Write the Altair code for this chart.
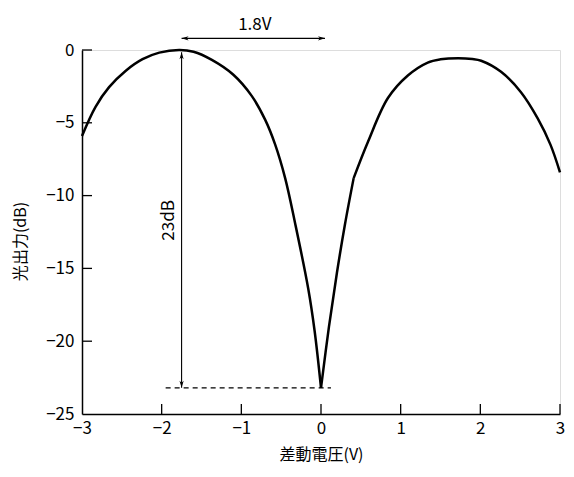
import altair as alt
import pandas as pd

# ---- data ----
# left lobe: -3 V up to the null at 0 V
left_x = [-3.0, -2.83, -2.66, -2.45, -2.24, -2.03, -1.78, -1.6, -1.37, -1.1,
          -0.87, -0.70, -0.575, -0.45, -0.325, -0.16, -0.08, 0.0]
left_db = [-5.9, -3.9, -2.55, -1.42, -0.63, -0.18, 0.0, -0.12, -0.68, -1.7,
           -3.15, -4.8, -6.5, -8.8, -11.9, -16.4, -19.3, -23.2]
# right branch, null up to the small kink
mid_x = [0.0, 0.1, 0.2, 0.3, 0.41]
mid_db = [-23.2, -19.0, -15.3, -12.0, -8.8]
# right lobe, kink up to +3 V
right_x = [0.41, 0.59, 0.84, 1.09, 1.34, 1.5, 1.72, 1.9, 2.01, 2.26, 2.51,
           2.72, 2.88, 3.0]
right_db = [-8.8, -6.3, -3.3, -1.75, -0.86, -0.64, -0.56, -0.62, -0.74, -1.5,
            -2.9, -4.7, -6.5, -8.4]

x_ticks = [-3, -2, -1, 0, 1, 2, 3]
y_ticks = [-25, -20, -15, -10, -5, 0]
x_inner_ticks = [-2, -1, 0, 1, 2, 3]
y_inner_ticks = [-20, -15, -10, -5, 0]

# annotation values
span_x = [-1.75, 0.05]      # 1.8V arrow ends
span_y = 0.8
span_label = "1.8V"
span_label_x = -0.83
span_label_y = 1.72
depth_x = -1.75              # 23dB arrow
depth_y = [-0.15, -23.2]
depth_label = "23dB"
depth_label_x = -1.91
depth_label_y = -11.7
dash_x = [-1.95, 0.125]
dash_y = -23.2

FONT = "Noto Sans CJK JP"
W, H = 478, 364

curve = pd.concat([
    pd.DataFrame({"v": left_x, "db": left_db, "branch": "a"}),
    pd.DataFrame({"v": mid_x, "db": mid_db, "branch": "b"}),
    pd.DataFrame({"v": right_x, "db": right_db, "branch": "c"}),
])

xs = alt.Scale(domain=[-3, 3], nice=False, zero=False)
ys = alt.Scale(domain=[-25, 0], nice=False, zero=False)

line = alt.Chart(curve).mark_line(color="black", strokeWidth=2.5,
                                  interpolate="catmull-rom").encode(
    x=alt.X("v:Q", scale=xs, title="差動電圧(V)",
            axis=alt.Axis(values=x_ticks, format="d", ticks=False, tickSize=0,
                          grid=False, domainColor="black", domainWidth=1.5,
                          labelFlush=False, labelPadding=6, labelFontSize=17,
                          labelFont=FONT, labelColor="black",
                          titleFont=FONT, titleFontSize=16,
                          titleFontWeight="normal", titleColor="black",
                          titleY=40, titleBaseline="middle")),
    y=alt.Y("db:Q", scale=ys, title="光出力(dB)",
            axis=alt.Axis(values=y_ticks, format="d", ticks=False, tickSize=0,
                          grid=False, domainColor="black", domainWidth=1.5,
                          labelFlush=False, labelPadding=8, labelFontSize=17,
                          labelFont=FONT, labelColor="black",
                          titleFont=FONT, titleFontSize=16,
                          titleFontWeight="normal", titleColor="black",
                          titleX=-62, titleY=191, titleAngle=270,
                          titleAlign="center", titleBaseline="middle")),
    detail="branch:N",
)

xt = alt.Chart(pd.DataFrame({"v": x_inner_ticks})).mark_rule(
    color="black", strokeWidth=1.3).encode(
    x=alt.X("v:Q", scale=xs), y=alt.value(H), y2=alt.value(H - 10))
yt = alt.Chart(pd.DataFrame({"db": y_inner_ticks})).mark_rule(
    color="black", strokeWidth=1.3).encode(
    y=alt.Y("db:Q", scale=ys), x=alt.value(0), x2=alt.value(10))

hspan = alt.Chart(pd.DataFrame({"a": [span_x[0]], "b": [span_x[1]], "y": [span_y]})).mark_rule(
    color="black", strokeWidth=1.1).encode(
    x=alt.X("a:Q", scale=xs), x2="b:Q", y=alt.Y("y:Q", scale=ys))
vspan = alt.Chart(pd.DataFrame({"x": [depth_x], "a": [depth_y[0]], "b": [depth_y[1]]})).mark_rule(
    color="black", strokeWidth=1.1).encode(
    x=alt.X("x:Q", scale=xs), y=alt.Y("a:Q", scale=ys), y2="b:Q")
dash = alt.Chart(pd.DataFrame({"a": [dash_x[0]], "b": [dash_x[1]], "y": [dash_y]})).mark_rule(
    color="black", strokeWidth=1.2, strokeDash=[5, 4]).encode(
    x=alt.X("a:Q", scale=xs), x2="b:Q", y=alt.Y("y:Q", scale=ys))

ARROW = "M0,0 L-2,-0.6 L-1.45,0 L-2,0.6 Z"
heads = pd.DataFrame({
    "x": [span_x[0], span_x[1], depth_x, depth_x],
    "y": [span_y, span_y, depth_y[0], depth_y[1]],
    "ang": [180, 0, 270, 90],
})
arrowheads = alt.Chart(heads).mark_point(
    shape=ARROW, filled=True, color="black", opacity=1, size=49, strokeWidth=0).encode(
    x=alt.X("x:Q", scale=xs), y=alt.Y("y:Q", scale=ys),
    angle=alt.Angle("ang:Q", scale=None))

lab1 = alt.Chart(pd.DataFrame({"x": [span_label_x], "y": [span_label_y], "t": [span_label]})).mark_text(
    font=FONT, fontSize=17, color="black", align="center", baseline="middle").encode(
    x=alt.X("x:Q", scale=xs), y=alt.Y("y:Q", scale=ys), text="t:N")
lab2 = alt.Chart(pd.DataFrame({"x": [depth_label_x], "y": [depth_label_y], "t": [depth_label]})).mark_text(
    font=FONT, fontSize=17, color="black", align="center", baseline="middle", angle=270).encode(
    x=alt.X("x:Q", scale=xs), y=alt.Y("y:Q", scale=ys), text="t:N")

chart = alt.layer(line, xt, yt, dash, hspan, vspan, arrowheads, lab1, lab2).properties(
    width=W, height=H,
    autosize=alt.AutoSizeParams(type="none"),
    padding={"left": 74, "top": 42, "right": 6, "bottom": 52},
).configure_view(stroke=None).configure(background="white")

chart.save("out.html", embed_options={"renderer": "svg", "actions": False})
